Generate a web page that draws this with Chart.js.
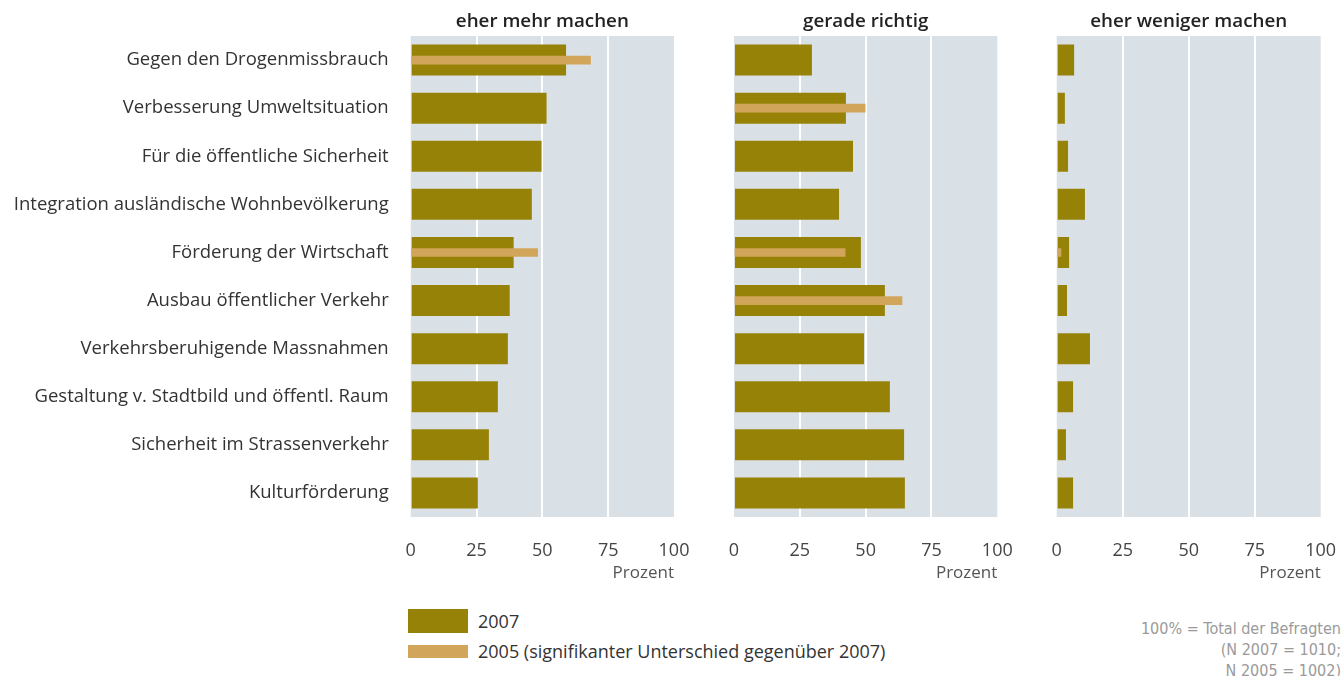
<!DOCTYPE html>
<html>
<head>
<meta charset="utf-8">
<script src="https://cdn.jsdelivr.net/npm/chart.js@4.4.0/dist/chart.umd.min.js"></script>
<style>
  body { margin: 0; background: #fff; font-family: 'Open Sans', sans-serif; }
  #wrap { position: relative; width: 1341px; height: 676px; overflow: hidden; }
  canvas { position: absolute; top: 0; }
  .leg { position: absolute; left: 408px; width: 60px; }
  .legtxt { position: absolute; left: 478px; font-size: 18px; color: #333; line-height: 24px; white-space: nowrap; }
  #note { position: absolute; right: 0; top: 618px; text-align: right; font-family: 'Liberation Sans Narrow', 'DejaVu Sans Condensed', sans-serif;
          font-size: 16px; line-height: 21px; color: #9a9a9a; }
</style>
</head>
<body>
<div id="wrap">
  <canvas id="c1" width="700" height="600" style="left:0"></canvas>
  <canvas id="c2" width="320" height="600" style="left:700px"></canvas>
  <canvas id="c3" width="321" height="600" style="left:1020px"></canvas>

  <div class="leg" style="top:609px;height:24px;background:#968207"></div>
  <div class="legtxt" style="top:609px">2007</div>
  <div class="leg" style="top:645px;height:13px;background:#d2a65a"></div>
  <div class="legtxt" style="top:639px">2005 (signifikanter Unterschied gegenüber 2007)</div>
  <div id="note">100% = Total der Befragten<br>(N 2007 = 1010;<br>N 2005 = 1002)</div>
</div>
<script>
const categories = [
  'Gegen den Drogenmissbrauch',
  'Verbesserung Umweltsituation',
  'Für die öffentliche Sicherheit',
  'Integration ausländische Wohnbevölkerung',
  'Förderung der Wirtschaft',
  'Ausbau öffentlicher Verkehr',
  'Verkehrsberuhigende Massnahmen',
  'Gestaltung v. Stadtbild und öffentl. Raum',
  'Sicherheit im Strassenverkehr',
  'Kulturförderung'
];
const panelTitles = ['eher mehr machen', 'gerade richtig', 'eher weniger machen'];
const xTicks = [0, 25, 50, 75, 100];

// Werte 2007
const mehr2007 = [59, 51.6, 49.7, 46, 39.1, 37.6, 36.9, 33.1, 29.7, 25.5];
const richtig2007 = [29.6, 42.5, 45.2, 39.9, 48.2, 57.3, 49.4, 59.2, 64.6, 64.9];
const weniger2007 = [6.6, 3.1, 4.3, 10.7, 4.7, 3.9, 12.6, 6.2, 3.5, 6.2];

// Werte 2005 (nur bei signifikantem Unterschied)
const mehr2005 = [68.3, null, null, null, 48.2, null, null, null, null, null];
const richtig2005 = [null, 49.8, null, null, 42.2, 63.8, null, null, null, null];
const weniger2005 = [null, null, null, null, 1.6, null, null, null, null, null];

const bgPlugin = {
  id: 'plotBg',
  beforeDraw(chart) {
    const a = chart.chartArea;
    const ctx = chart.ctx;
    ctx.save();
    ctx.fillStyle = '#d9e1e7';
    ctx.fillRect(a.left, a.top, a.right - a.left, a.bottom - a.top);
    ctx.restore();
  }
};

function makePanel(id, title, d2007, d2005, showLabels, padLeft, padRight) {
  return new Chart(document.getElementById(id), {
    type: 'bar',
    data: {
      labels: categories,
      datasets: [
        {
          label: '2005',
          data: d2005,
          backgroundColor: '#d2a65a',
          barThickness: 8,
          grouped: false
        },
        {
          label: '2007',
          data: d2007,
          backgroundColor: '#968207',
          categoryPercentage: 1,
          barPercentage: 0.645,
          grouped: false
        }
      ]
    },
    options: {
      indexAxis: 'y',
      responsive: false,
      animation: false,
      layout: { padding: { left: padLeft, right: padRight, top: 0, bottom: 17.4 } },
      plugins: {
        legend: { display: false },
        tooltip: { enabled: false },
        title: {
          display: true,
          text: title,
          fullSize: false,
          color: '#222',
          font: { family: 'Open Sans', size: 18.8, weight: '600', lineHeight: 1.15 },
          padding: { top: 11, bottom: 3.4 }
        }
      },
      scales: {
        x: {
          min: 0,
          max: 100,
          afterBuildTicks: s => { s.ticks = xTicks.map(v => ({ value: v })); },
          grid: {
            color: c => (c.tick && (c.tick.value === 0 || c.tick.value === 100)) ? 'rgba(0,0,0,0)' : '#ffffff',
            lineWidth: 2,
            drawTicks: true,
            tickLength: 20,
            tickColor: 'rgba(0,0,0,0)'
          },
          border: { display: false },
          ticks: {
            padding: 3,
            color: '#444',
            font: { family: 'Open Sans', size: 18, lineHeight: 1.2 }
          },
          title: {
            display: true,
            text: 'Prozent',
            align: 'end',
            color: '#555',
            font: { family: 'Open Sans', size: 17, lineHeight: 18 / 17 },
            padding: { top: 0, bottom: 0 }
          }
        },
        y: {
          display: showLabels,
          grid: { display: false },
          border: { display: false },
          afterFit: s => { if (showLabels) s.width = 410.7; },
          ticks: {
            padding: 14,
            color: '#333',
            font: { family: 'Open Sans', size: 18.5 }
          }
        }
      }
    },
    plugins: [bgPlugin]
  });
}

makePanel('c1', panelTitles[0], mehr2007, mehr2005, true, 0, 26);
makePanel('c2', panelTitles[1], richtig2007, richtig2005, false, 34, 22.7);
makePanel('c3', panelTitles[2], weniger2007, weniger2005, false, 36.7, 20.3);
</script>
</body>
</html>
